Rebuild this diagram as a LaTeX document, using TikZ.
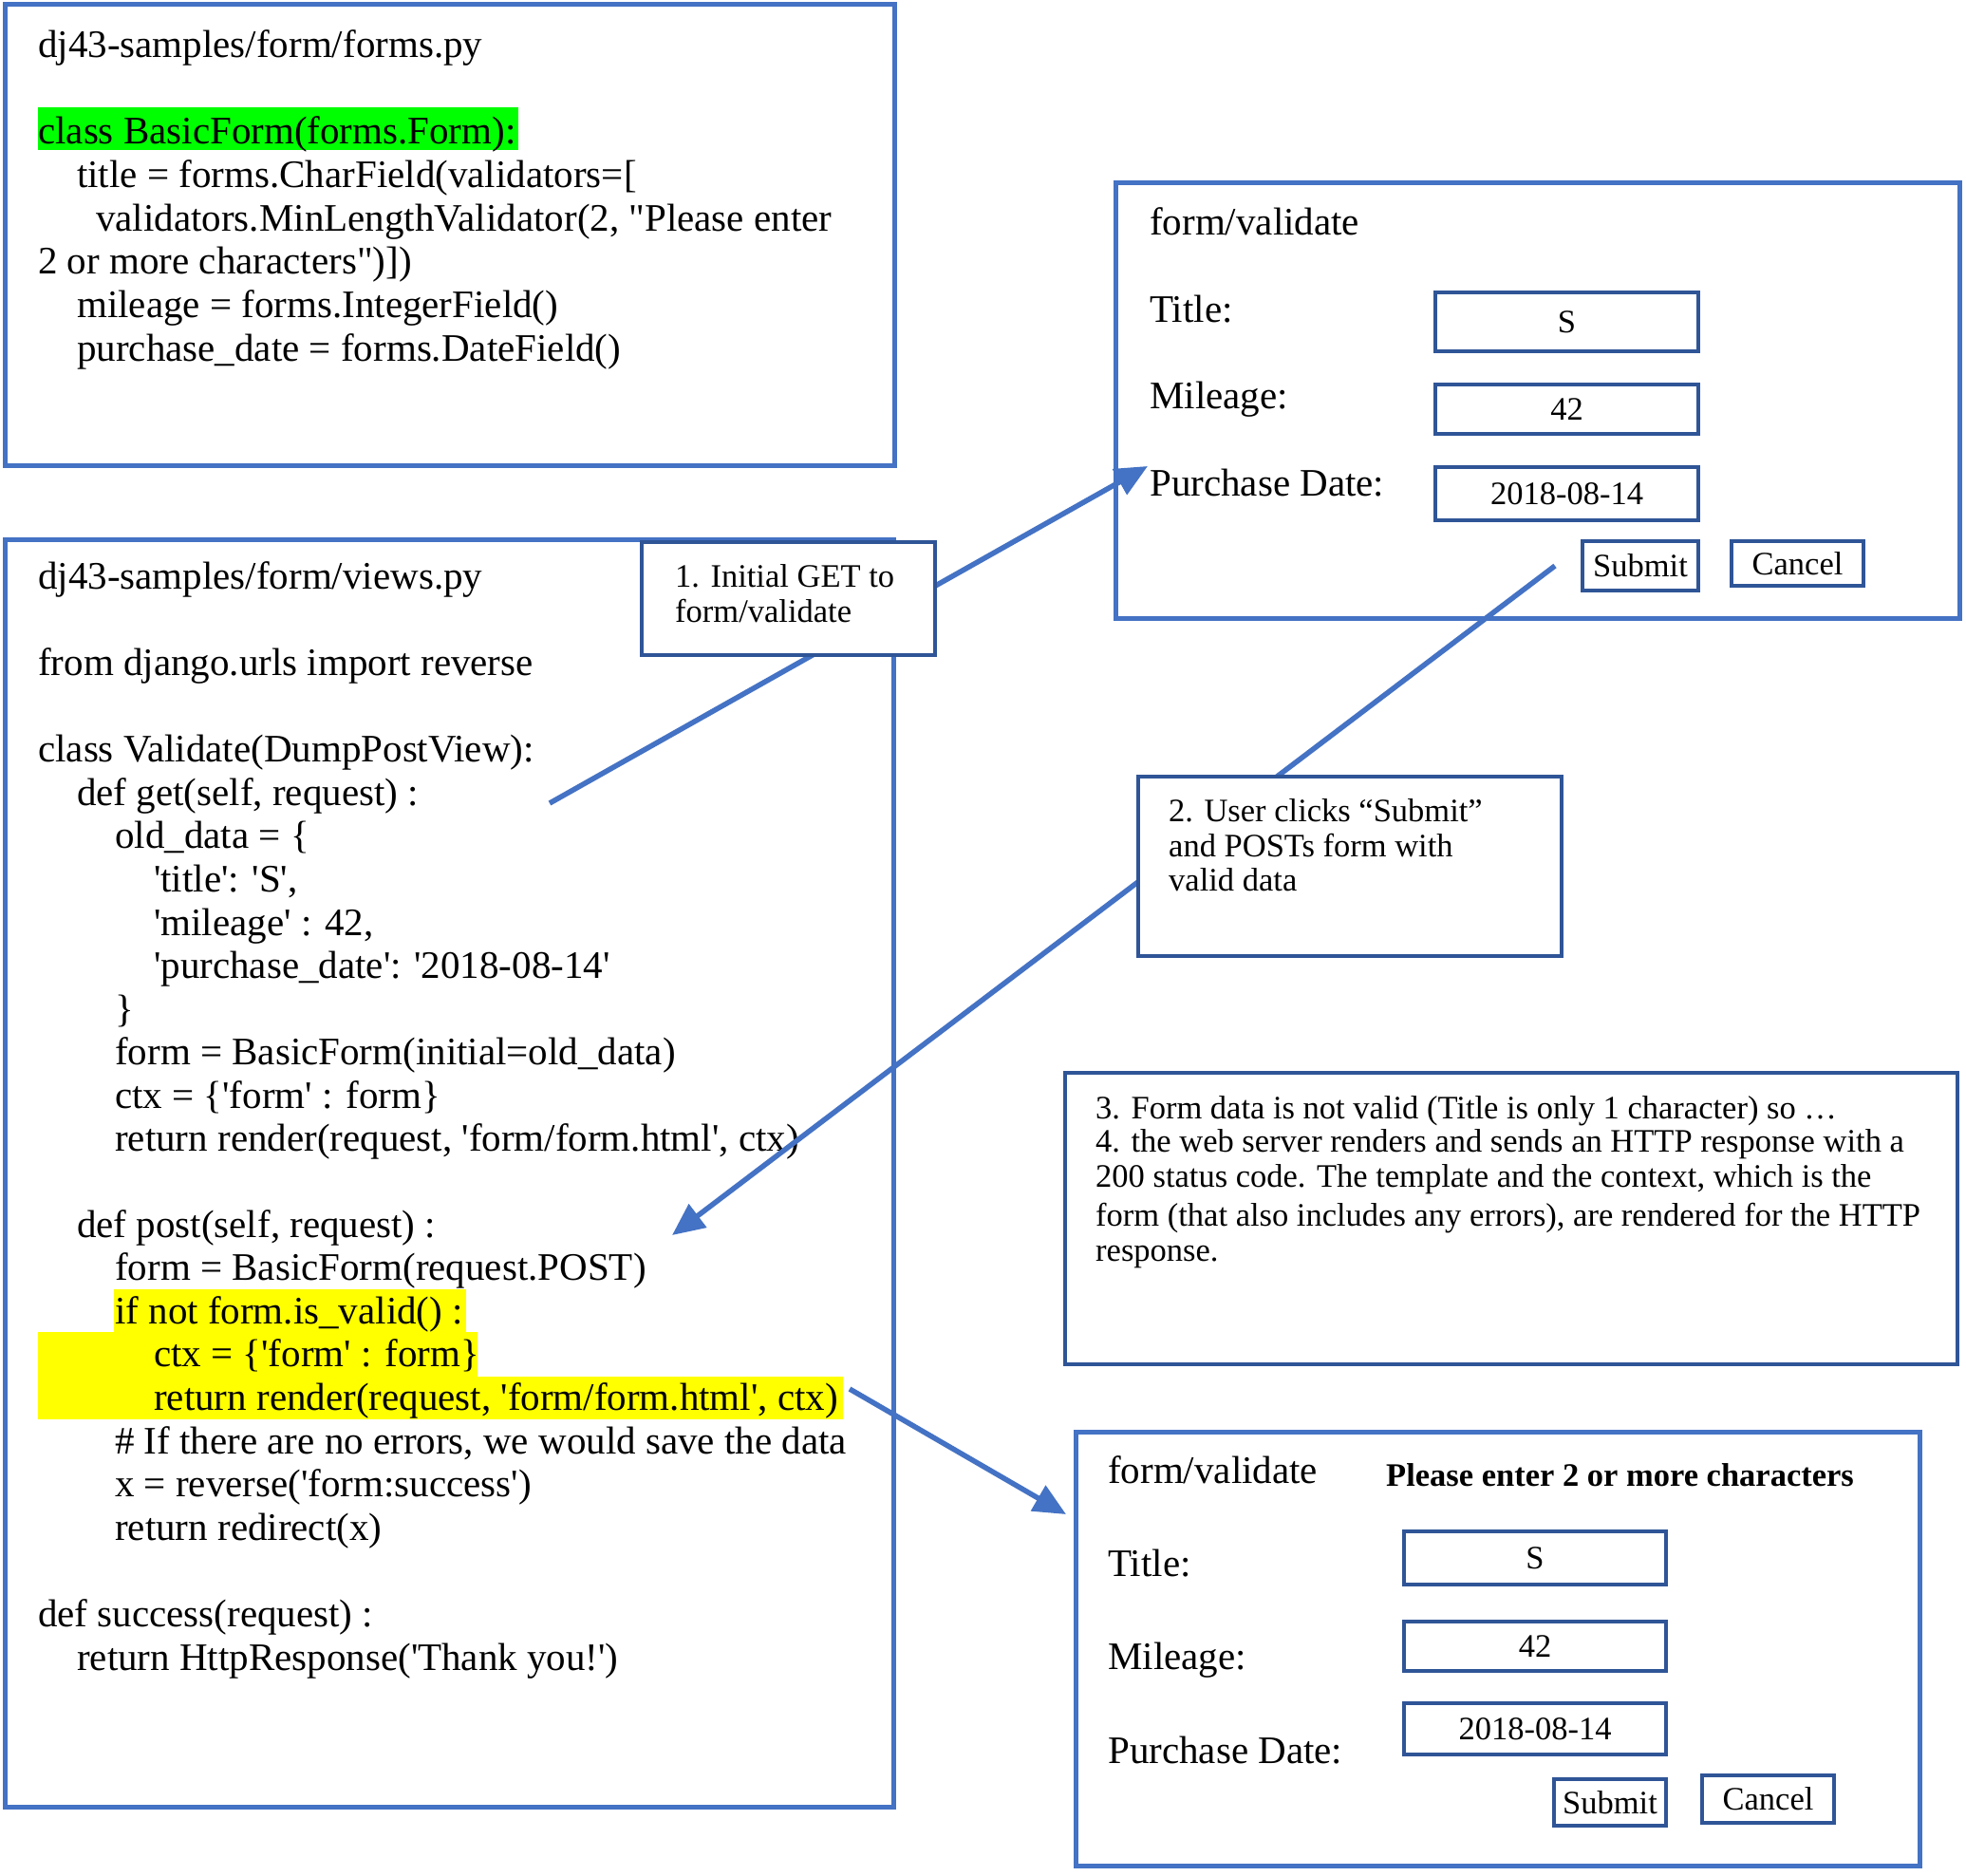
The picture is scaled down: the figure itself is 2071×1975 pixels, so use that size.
\documentclass[tikz,border=0pt]{standalone}
\usepackage{fontspec}
\setmainfont{Liberation Serif}
\newfontfamily\cf{Liberation Serif}
\usetikzlibrary{arrows.meta}
\definecolor{obox}{HTML}{4472C4}
\definecolor{nbox}{HTML}{2F5597}
\definecolor{hlgreen}{HTML}{00FF00}
\definecolor{hlyellow}{HTML}{FFFF00}
\newcommand\placebox[7]{\node[#1, anchor=north west, minimum width={#4-#2}, minimum height={#5-#3}] (#6) at (#2,#3) {#7};}
\begin{document}
\begin{tikzpicture}[x=1pt,y=-1pt,
  code/.style={anchor=base west, inner sep=0pt, font=\cf\fontsize{41}{45}\selectfont},
  small/.style={anchor=base west, inner sep=0pt, font=\cf\fontsize{34.5}{37}\selectfont},
  panel/.style={draw=obox, line width=5pt, inner sep=0pt, outer sep=0pt},
  note/.style={draw=nbox, line width=4pt, fill=white, inner sep=0pt, outer sep=0pt},
  field/.style={draw=nbox, line width=4.5pt, inner sep=0pt, outer sep=0pt, font=\cf\fontsize{34.5}{37}\selectfont},
  hl/.style={inner sep=0pt, outer sep=0pt},
  conn/.style={draw=obox, line width=5.5pt, -{Triangle[length=34pt,width=30pt]}},
  line/.style={draw=obox, line width=5.5pt}
]
\useasboundingbox[fill=white] (0,0) rectangle (2071,1975);

% highlights
\placebox{hl, fill=hlgreen}{40}{113}{546}{158}{hgreen}{}
\placebox{hl, fill=hlyellow}{120}{1358}{491}{1404}{hy1}{}
\placebox{hl, fill=hlyellow}{40}{1403}{503}{1451}{hy2}{}
\placebox{hl, fill=hlyellow}{40}{1450}{888}{1495}{hy3}{}

% panels
\placebox{panel}{5}{5}{942}{490}{forms}{}
\placebox{panel}{5}{568}{941}{1903}{views}{}
\placebox{panel}{1175}{192}{2064}{651}{formtop}{}
\placebox{panel}{1133}{1508}{2022}{1965}{formbot}{}
\placebox{note}{1122}{1130}{2062}{1437}{note3}{}

% forms.py text
\node[code] (f0) at (40,60) {dj43-samples/form/forms.py};
\node[code] (f1) at (40,151) {class BasicForm(forms.Form):};
\node[code] (f2) at (81,197) {title = forms.CharField(validators=[};
\node[code] (f3) at (101,243) {validators.MinLengthValidator(2, "Please enter};
\node[code] (f4) at (40,288) {2 or more characters")])};
\node[code] (f5) at (81,334) {mileage = forms.IntegerField()};
\node[code] (f6) at (81,380) {purchase\_date = forms.DateField()};

% views.py text
\node[code] (v0) at (40,620) {dj43-samples/form/views.py};
\node[code] (v2) at (40,711) {from django.urls import reverse};
\node[code] (v4) at (40,802) {class Validate(DumpPostView):};
\node[code] (v5) at (81,848) {def get(self, request) :};
\node[code] (v6) at (121,893) {old\_data = \{};
\node[code] (v7) at (162,939) {'title': 'S',};
\node[code] (v8) at (162,985) {'mileage' : 42,};
\node[code] (v9) at (162,1030) {'purchase\_date': '2018-08-14'};
\node[code] (v10) at (121,1076) {\}};
\node[code] (v11) at (121,1121) {form = BasicForm(initial=old\_data)};
\node[code] (v12) at (121,1167) {ctx = \{'form' : form\}};
\node[code] (v13) at (121,1212) {return render(request, 'form/form.html', ctx)};
\node[code] (v15) at (81,1303) {def post(self, request) :};
\node[code] (v16) at (121,1348) {form = BasicForm(request.POST)};
\node[code] (v17) at (121,1394) {if not form.is\_valid() :};
\node[code] (v18) at (162,1439) {ctx = \{'form' : form\}};
\node[code] (v19) at (162,1485) {return render(request, 'form/form.html', ctx)};
\node[code] (v20) at (121,1531) {\# If there are no errors, we would save the data};
\node[code] (v21) at (121,1576) {x = reverse('form:success')};
\node[code] (v22) at (121,1622) {return redirect(x)};
\node[code] (v24) at (40,1713) {def success(request) :};
\node[code] (v25) at (81,1759) {return HttpResponse('Thank you!')};

% top form
\node[code] (t0) at (1211,247) {form/validate};
\node[code] (t1) at (1211,339) {Title:};
\node[code] (t2) at (1211,430) {Mileage:};
\node[code] (t3) at (1211,522) {Purchase Date:};
\placebox{field}{1512}{308}{1789}{370}{ti}{S}
\placebox{field}{1512}{405}{1789}{457}{tm}{42}
\placebox{field}{1512}{492}{1789}{548}{td}{2018-08-14}
\placebox{field}{1667}{570}{1789}{622}{tsub}{Submit}
\placebox{field}{1824}{570}{1963}{617}{tcan}{Cancel}

% bottom form
\node[code] (b0) at (1167,1562) {form/validate};
\node[small, font=\cf\bfseries\fontsize{34.5}{37}\selectfont] (berr) at (1460,1565) {Please enter 2 or more characters};
\node[code] (b1) at (1167,1660) {Title:};
\node[code] (b2) at (1167,1758) {Mileage:};
\node[code] (b3) at (1167,1857) {Purchase Date:};
\placebox{field}{1479}{1613}{1755}{1669}{bi}{S}
\placebox{field}{1479}{1708}{1755}{1760}{bm}{42}
\placebox{field}{1479}{1794}{1755}{1848}{bd}{2018-08-14}
\placebox{field}{1637}{1874}{1755}{1923}{bsub}{Submit}
\placebox{field}{1793}{1870}{1932}{1920}{bcan}{Cancel}

% note 3 text
\node[small] (n3a) at (1154,1178) {3. Form data is not valid (Title is only 1 character) so …};
\node[small] (n3b) at (1154,1213) {4. the web server renders and sends an HTTP response with a};
\node[small] (n3c) at (1154,1250) {200 status code. The template and the context, which is the};
\node[small] (n3d) at (1154,1291) {form (that also includes any errors), are rendered for the HTTP};
\node[small] (n3e) at (1154,1328) {response.};

% connectors
\coordinate (getsrc) at (579,846);
\coordinate (gettip) at (1209,491);
\coordinate (subsrc) at (1638,596);
\coordinate (posttip) at (708,1301);
\coordinate (rensrc) at (895,1463);
\coordinate (rentip) at (1123,1595);
\draw[conn] (getsrc) -- (gettip);
\draw[conn] (subsrc) -- (posttip);
\draw[conn] (rensrc) -- (rentip);

% note boxes 1 and 2
\placebox{note}{676}{571}{985}{690}{note1}{}
\node[small] (n1a) at (711,618) {1. Initial GET to};
\node[small] (n1b) at (711,655) {form/validate};
\placebox{note}{1199}{818}{1645}{1007}{note2}{}
\node[small] (n2a) at (1231,865) {2. User clicks “Submit”};
\node[small] (n2b) at (1231,902) {and POSTs form with};
\node[small] (n2c) at (1231,938) {valid data};
\end{tikzpicture}
\end{document}
